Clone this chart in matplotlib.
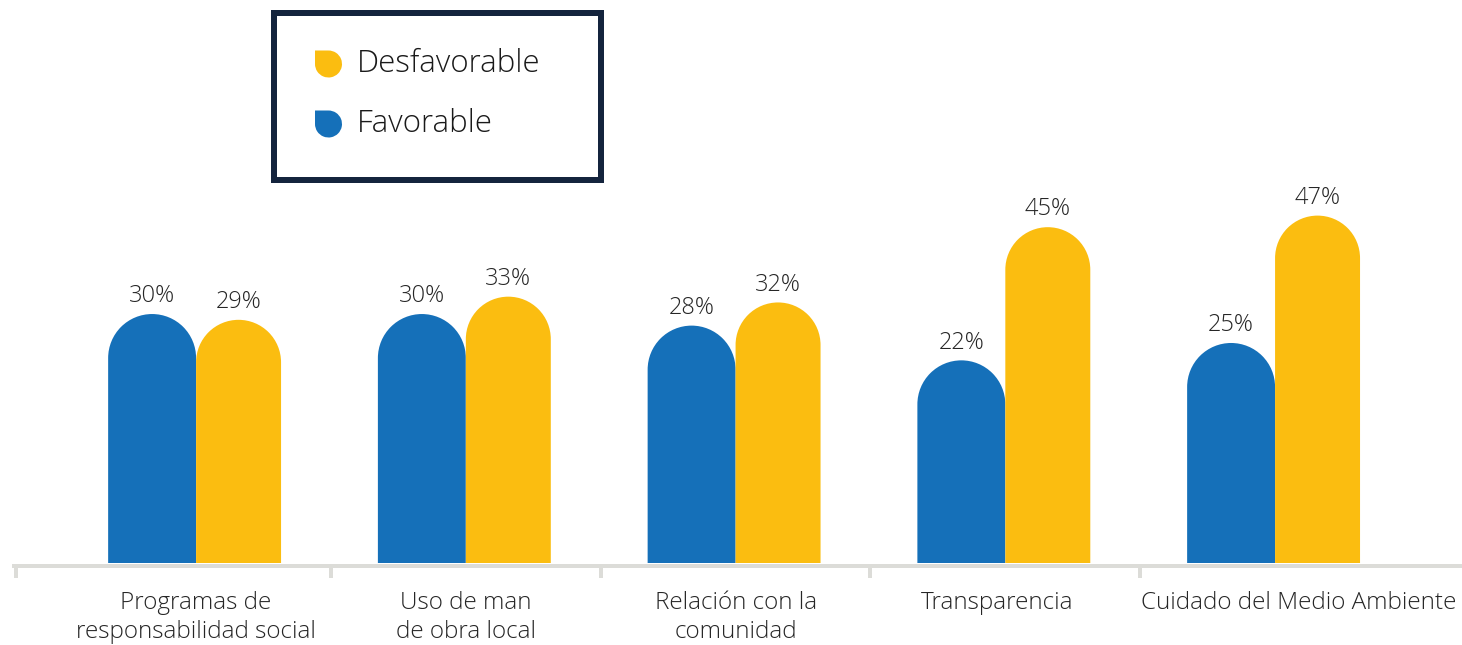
import matplotlib
matplotlib.use('Agg')
import matplotlib.pyplot as plt
from matplotlib.path import Path
from matplotlib.patches import PathPatch, Rectangle
from matplotlib.transforms import Affine2D, ScaledTranslation
import numpy as np

categories = ["Programas de\nresponsabilidad social", "Uso de man\nde obra local",
              "Relación con la\ncomunidad", "Transparencia", "Cuidado del Medio Ambiente"]
favorable = [30, 30, 28, 22, 25]
desfavorable = [29, 33, 32, 45, 47]
series_names = ["Desfavorable", "Favorable"]

BLUE = '#1570b9'
YELLOW = '#fbbd10'
TEXT = '#262626'
GREY = '#dcdcd8'
NAVY = '#14243d'
FONT = ['Open Sans', 'DejaVu Sans']
plt.rcParams['font.family'] = FONT
plt.rcParams['font.weight'] = 300

W, H = 1462, 645
fig = plt.figure(figsize=(W / 100, H / 100), dpi=100)
ax = fig.add_axes([14 / W, (H - 563) / H, (W - 14) / W, 563 / H])
FLOOR = -13
x = np.arange(len(categories))
ax.set_xlim(-0.675, 4.693)
ax.set_ylim(FLOOR, FLOOR + 563 / 5.79)

bw_f, bw_d = 0.326, 0.315
bars_f = ax.bar(x, np.array(favorable) - FLOOR, bottom=FLOOR, width=-bw_f, align='edge', color=BLUE)
bars_d = ax.bar(x, np.array(desfavorable) - FLOOR, bottom=FLOOR, width=bw_d, align='edge', color=YELLOW)


def round_top(bar, color):
    bb = bar.get_bbox()
    xa, xb = sorted([bb.x0, bb.x1])
    ya, yb = sorted([bb.y0, bb.y1])
    (dx0, dy0), (dx1, dy1) = ax.transData.transform([(xa, ya), (xb, yb)])
    r = (dx1 - dx0) / 2
    cx = (dx0 + dx1) / 2
    arc = Path.arc(0, 180)
    av = arc.vertices * r + [cx, dy1 - r]
    verts = np.vstack([[dx1, dy0], av, [dx0, dy0], [dx1, dy0]])
    codes = [Path.MOVETO] + [Path.LINETO] + list(arc.codes[1:]) + [Path.LINETO, Path.CLOSEPOLY]
    data_verts = ax.transData.inverted().transform(verts)
    ax.add_patch(PathPatch(Path(data_verts, codes), facecolor=color, edgecolor='none', lw=0))
    bar.set_visible(False)


for b in bars_f:
    round_top(b, BLUE)
for b in bars_d:
    round_top(b, YELLOW)

for xi, v in zip(x, favorable):
    ax.annotate(f"{v}%", (xi - bw_f / 2, v), xytext=(0, 8.5), textcoords='offset points',
                ha='center', va='baseline', fontsize=17, color=TEXT)
for xi, v in zip(x, desfavorable):
    ax.annotate(f"{v}%", (xi + bw_d / 2, v), xytext=(0, 8.5), textcoords='offset points',
                ha='center', va='baseline', fontsize=17, color=TEXT)

for s in ['top', 'right', 'left']:
    ax.spines[s].set_visible(False)
ax.spines['bottom'].set_color(GREY)
ax.spines['bottom'].set_linewidth(4 * 0.72)
ax.spines['bottom'].set_position(('outward', 3 * 0.72))
ax.set_yticks([])
ax.set_xticks(x, categories)
ax.tick_params(axis='x', which='major', length=0, pad=18, labelsize=17.5, labelcolor=TEXT)
labels = ax.get_xticklabels()
for lab in labels:
    lab.set_linespacing(1.3)
labels[3].set_transform(labels[3].get_transform() + ScaledTranslation(-8 / 100, 0, fig.dpi_scale_trans))
labels[4].set_transform(labels[4].get_transform() + ScaledTranslation(24 / 100, 0, fig.dpi_scale_trans))
sep = np.r_[x[0] - 0.667, (x[:-1] + x[1:]) / 2]
ax.set_xticks(sep, minor=True)
ax.tick_params(axis='x', which='minor', length=12 * 0.72, width=4 * 0.72, color=GREY, direction='out')

# legend
fig.add_artist(Rectangle((274 / W, (H - 180) / H), (601 - 274) / W, (180 - 13) / H,
                         transform=fig.transFigure, facecolor='white', edgecolor=NAVY,
                         lw=6 * 0.72, zorder=5))
arc = Path.arc(180, 450)
lv = np.vstack([arc.vertices * 0.5 + 0.5, [[0, 1], [0, 0.5]]])
lc = list(arc.codes) + [Path.LINETO, Path.CLOSEPOLY]
leaf = Path(lv, lc)
for name, color, yc in [(series_names[0], YELLOW, 64), (series_names[1], BLUE, 124)]:
    tr = Affine2D().scale(27 / 100).translate(315 / 100, (H - yc - 13.5) / 100) + fig.dpi_scale_trans
    fig.add_artist(PathPatch(leaf, transform=tr, facecolor=color, edgecolor='none', zorder=6))
    fig.text(357 / W, 1 - yc / H, name, fontsize=22.5, color='#1a1a1a', va='center', ha='left', zorder=6)

fig.savefig('out.png', dpi=100)
